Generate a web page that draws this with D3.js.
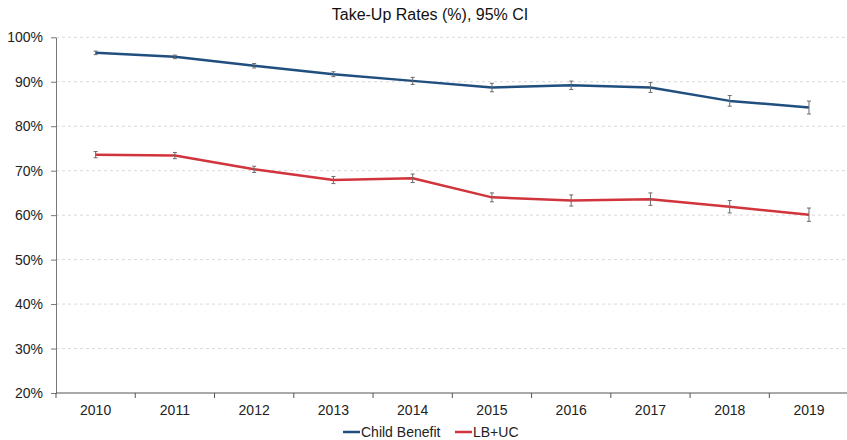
<!DOCTYPE html>
<html>
<head>
<meta charset="utf-8">
<script src="https://cdn.jsdelivr.net/npm/d3@7"></script>
<style>
  html, body { margin: 0; padding: 0; background: #fff; }
  svg { display: block; font-family: "Liberation Sans", Arial, sans-serif; }
</style>
</head>
<body>
<svg id="chart" width="847" height="440"></svg>
<script>
// Survey years
const years = ["2010","2011","2012","2013","2014","2015","2016","2017","2018","2019"];

// Take-up rates (%) and 95% CI half-widths (percentage points)
const childBenefit   = [96.5, 95.6, 93.6, 91.7, 90.2, 88.7, 89.2, 88.7, 85.7, 84.2];
const childBenefitCI = [0.4, 0.4, 0.5, 0.55, 0.8, 0.95, 0.95, 1.1, 1.2, 1.45];
const lbUc           = [73.6, 73.4, 70.3, 67.9, 68.3, 64.0, 63.3, 63.6, 61.9, 60.1];
const lbUcCI         = [0.7, 0.7, 0.7, 0.8, 0.95, 1.0, 1.25, 1.4, 1.4, 1.5];

const yTicks = [20, 30, 40, 50, 60, 70, 80, 90, 100];

const series = [
  { name: "Child Benefit", values: childBenefit, ci: childBenefitCI, color: "#1f4e7f" },
  { name: "LB+UC",         values: lbUc,         ci: lbUcCI,         color: "#d1343b" }
];

const svg = d3.select("#chart");
const plotLeft = 56, plotRight = 848.6, plotTop = 37.3, plotBottom = 393;

const x = d3.scaleBand().domain(years).range([plotLeft, plotRight]).padding(0);
const y = d3.scaleLinear().domain([20, 100]).range([plotBottom, plotTop]);
const cx = d => x(d) + x.bandwidth() / 2;

// Title
svg.append("text")
  .attr("x", 430).attr("y", 20)
  .attr("text-anchor", "middle")
  .attr("font-size", 16)
  .attr("fill", "#111")
  .text("Take-Up Rates (%), 95% CI");

// Dashed horizontal gridlines
svg.append("g")
  .selectAll("line")
  .data(yTicks.filter(t => t > 20))
  .join("line")
  .attr("x1", plotLeft).attr("x2", 847)
  .attr("y1", d => y(d)).attr("y2", d => y(d))
  .attr("stroke", "#d9d9d9")
  .attr("stroke-width", 1)
  .attr("stroke-dasharray", "3,3");

// Y axis
const yAxis = svg.append("g")
  .attr("transform", `translate(${plotLeft},0)`)
  .call(d3.axisLeft(y).tickValues(yTicks).tickFormat(d => d + "%").tickSize(5).tickSizeOuter(0));
yAxis.select(".domain").attr("stroke", "#777");
yAxis.selectAll(".tick line").attr("stroke", "#777");
yAxis.selectAll(".tick text")
  .attr("font-size", 14)
  .attr("fill", "#222")
  .attr("font-family", "'Liberation Sans', Arial, sans-serif")
  .attr("x", -13);

// X axis with ticks at category boundaries
const xAxis = svg.append("g")
  .attr("transform", `translate(0,${plotBottom})`);
xAxis.append("line")
  .attr("x1", plotLeft).attr("x2", 847)
  .attr("y1", 0).attr("y2", 0)
  .attr("stroke", "#555");
xAxis.selectAll("line.tk")
  .data(years)
  .join("line")
  .attr("class", "tk")
  .attr("x1", d => x(d)).attr("x2", d => x(d))
  .attr("y1", 0).attr("y2", 5)
  .attr("stroke", "#555");
xAxis.selectAll("text")
  .data(years)
  .join("text")
  .attr("x", d => cx(d))
  .attr("y", 22)
  .attr("text-anchor", "middle")
  .attr("font-size", 14)
  .attr("fill", "#222")
  .text(d => d);

// Lines
const line = d3.line()
  .x(d => cx(d.year))
  .y(d => y(d.v));

series.forEach(s => {
  const pts = years.map((yr, i) => ({ year: yr, v: s.values[i], e: s.ci[i] }));

  svg.append("path")
    .datum(pts)
    .attr("d", line)
    .attr("fill", "none")
    .attr("stroke", s.color)
    .attr("stroke-width", 2.5)
    .attr("stroke-linejoin", "round");

  // Error bars
  const eb = svg.append("g").selectAll("g")
    .data(pts)
    .join("g")
    .attr("stroke", "#6b6b6b")
    .attr("stroke-width", 1);
  eb.append("line")
    .attr("x1", d => cx(d.year)).attr("x2", d => cx(d.year))
    .attr("y1", d => y(d.v - d.e)).attr("y2", d => y(d.v + d.e));
  eb.append("line")
    .attr("x1", d => cx(d.year) - 2).attr("x2", d => cx(d.year) + 2)
    .attr("y1", d => y(d.v - d.e)).attr("y2", d => y(d.v - d.e));
  eb.append("line")
    .attr("x1", d => cx(d.year) - 2).attr("x2", d => cx(d.year) + 2)
    .attr("y1", d => y(d.v + d.e)).attr("y2", d => y(d.v + d.e));
});

// Legend
const legend = svg.append("g").attr("transform", "translate(0,432)");
const legendX = [343, 455];
series.forEach((s, i) => {
  const g = legend.append("g").attr("transform", `translate(${legendX[i]},0)`);
  g.append("line")
    .attr("x1", 0).attr("x2", 17)
    .attr("y1", 0).attr("y2", 0)
    .attr("stroke", s.color)
    .attr("stroke-width", 2.5);
  g.append("text")
    .attr("x", 18).attr("y", 5)
    .attr("font-size", 14)
    .attr("fill", "#222")
    .text(s.name);
});
</script>
</body>
</html>
